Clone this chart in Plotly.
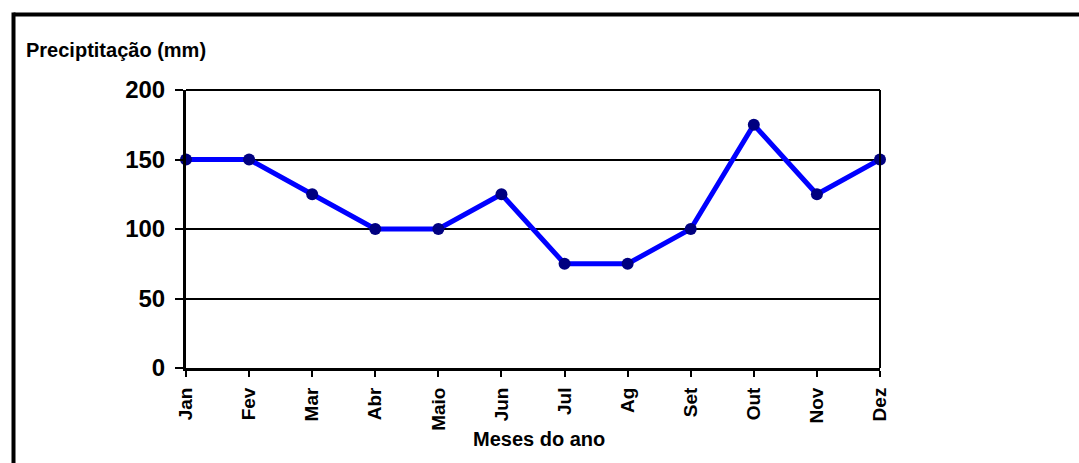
import plotly.graph_objects as go

# Monthly precipitation (mm)
meses = ["Jan", "Fev", "Mar", "Abr", "Maio", "Jun", "Jul", "Ag", "Set", "Out", "Nov", "Dez"]
precipitacao = [150, 150, 125, 100, 100, 125, 75, 75, 100, 175, 125, 150]
y_ticks = [0, 50, 100, 150, 200]

W, H = 1079, 463
L, R, T, B = 186, 880, 90, 368  # plot area in pixels


def px(x):
    return (x - L) / (R - L)


def py(y):
    return (B - y) / (B - T)


FONT = "Liberation Sans, Arial, sans-serif"

fig = go.Figure(
    go.Scatter(
        x=meses,
        y=precipitacao,
        mode="lines+markers",
        line=dict(color="#0000FF", width=5),
        marker=dict(color="#000080", size=12),
        cliponaxis=False,
        hoverinfo="x+y",
    )
)

fig.update_layout(
    width=W,
    height=H,
    margin=dict(l=L, r=W - R, t=T, b=H - B),
    paper_bgcolor="white",
    plot_bgcolor="white",
    showlegend=False,
    font=dict(family=FONT, color="black"),
)

fig.update_xaxes(
    type="category",
    categoryorder="array",
    categoryarray=meses,
    range=[0, len(meses) - 1],
    showgrid=False,
    showline=True,
    linecolor="black",
    linewidth=3,
    ticks="outside",
    ticklen=6,
    tickwidth=2,
    tickcolor="black",
    tickangle=-90,
    tickfont=dict(family=FONT, size=19, color="black", weight="bold"),
    ticklabelstandoff=3,
    zeroline=False,
)

fig.update_yaxes(
    range=[0, 200],
    tickvals=y_ticks,
    showgrid=True,
    gridcolor="black",
    gridwidth=2,
    showline=True,
    linecolor="black",
    linewidth=3,
    ticks="outside",
    ticklen=8,
    tickwidth=2,
    tickcolor="black",
    tickfont=dict(family=FONT, size=24, color="black", weight="bold"),
    ticklabelstandoff=5,
    zeroline=False,
)

shapes = [
    # top and right edges of the plot area
    dict(type="line", xref="paper", yref="paper", x0=0, x1=1, y0=1, y1=1,
         line=dict(color="black", width=2)),
    dict(type="line", xref="paper", yref="paper", x0=1, x1=1, y0=0, y1=1,
         line=dict(color="black", width=2)),
    # outer frame: top and left
    dict(type="line", xref="paper", yref="paper", x0=px(13.5), x1=px(W + 5),
         y0=py(14.5), y1=py(14.5), line=dict(color="black", width=4)),
    dict(type="line", xref="paper", yref="paper", x0=px(13.5), x1=px(13.5),
         y0=py(12.5), y1=py(H + 5), line=dict(color="black", width=4)),
]

annotations = [
    dict(text="<b>Preciptitação (mm)</b>", xref="paper", yref="paper",
         x=px(24), y=py(50), xanchor="left", yanchor="middle", showarrow=False,
         font=dict(family=FONT, size=20, color="black")),
    dict(text="<b>Meses do ano</b>", xref="paper", yref="paper",
         x=px(539), y=py(439), xanchor="center", yanchor="middle", showarrow=False,
         font=dict(family=FONT, size=20, color="black")),
]

fig.update_layout(shapes=shapes, annotations=annotations)

fig.write_html("out.html")
